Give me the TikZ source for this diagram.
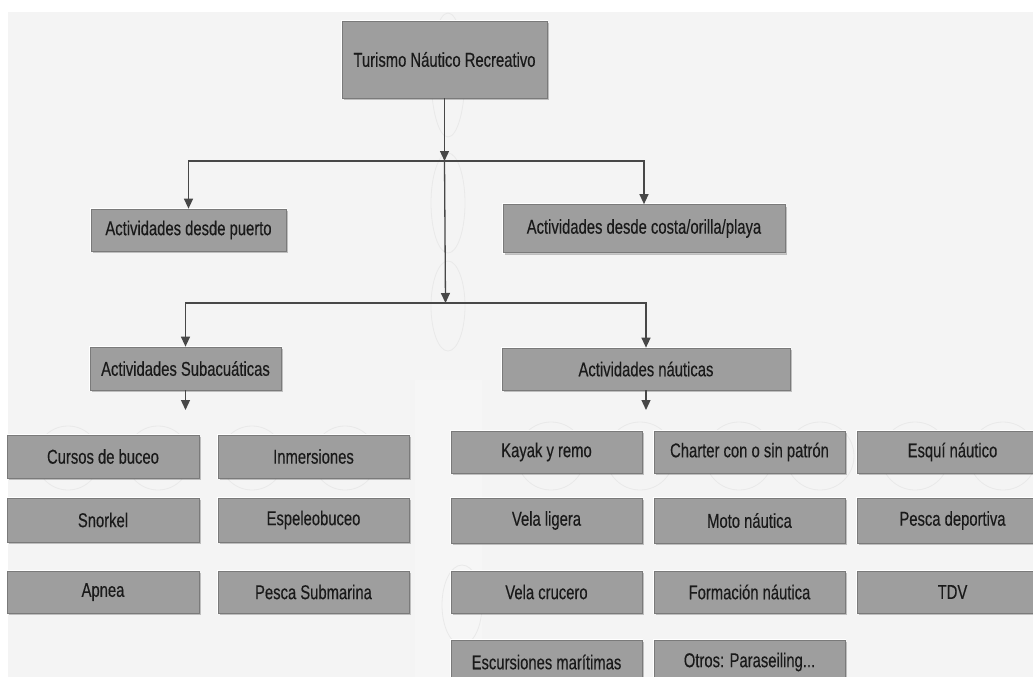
\documentclass[tikz,border=0pt]{standalone}
\usepackage{fontspec}
\setmainfont{Liberation Sans}
\newfontfamily\narrowfont[FakeStretch=0.74, FakeBold=0.35]{Liberation Sans}
\usetikzlibrary{arrows.meta,shadows}
\definecolor{bgc}{HTML}{F4F4F4}
\definecolor{boxfill}{HTML}{9E9E9E}
\definecolor{boxline}{HTML}{7A7A7A}
\definecolor{linec}{HTML}{474747}
\definecolor{ghost}{HTML}{E9E9E9}
\definecolor{textc}{HTML}{1A1A1A}
\tikzset{
  box/.style={draw=boxline, line width=0.7pt, fill=boxfill,
    preaction={draw=white, line width=2.6pt},
    drop shadow={shadow xshift=1.5pt, shadow yshift=-2pt, opacity=0.22, fill=black},
    font=\narrowfont\fontsize{20}{22}\selectfont, text=textc, inner sep=0pt, anchor=center},
  sz/.style 2 args={minimum width=#1pt, minimum height=#2pt},
  conn/.style={draw=linec, line width=1.3pt, -{Triangle[width=9pt,length=10pt]}},
  ghostline/.style={draw=ghost, line width=0.8pt}
}
\begin{document}
\begin{tikzpicture}[x=1pt,y=-1pt]
\useasboundingbox (0,0) rectangle (1033,677);
\clip (0,0) rectangle (1033,677);
\fill[white] (0,0) rectangle (1033,677);
\fill[bgc] (8,12) rectangle (1033,677);
\fill[white, opacity=0.2] (415,380) rectangle (482,677);
% faint background shapes
\draw[ghostline] (448,75) ellipse [x radius=17, y radius=62];
\draw[ghostline] (448,203) ellipse [x radius=17, y radius=50];
\draw[ghostline] (448,306) ellipse [x radius=17, y radius=45];
\draw[ghostline] (462,605) ellipse [x radius=20, y radius=40];
\foreach \cx in {68,158,252,345} \draw[ghostline] (\cx,458) circle [radius=32];
\foreach \cx in {551,640,739,820,915,1003} \draw[ghostline] (\cx,456) circle [radius=34];
% main nodes
\node[box, sz={205}{77}] (top) at (444.5,59.5) {Turismo Náutico Recreativo};
\node[box, sz={195}{42}] (puerto) at (188.5,230) {Actividades desde puerto};
\node[box, sz={282}{48}] (costa) at (644,228.5) {Actividades desde costa/orilla/playa};
\node[box, sz={191}{43}] (sub) at (185.5,368.5) {Actividades Subacuáticas};
\node[box, sz={288}{42}] (nau) at (646,369) {Actividades náuticas};
% left grid
\node[box, sz={192}{43}] (cb) at (103,456.5) {Cursos de buceo};
\node[box, sz={191}{43}] (inm) at (313.5,456.5) {Inmersiones};
\node[box, sz={192}{44}] (sn) at (103,520) {Snorkel};
\node[box, sz={191}{44}] (esp) at (313.5,520) {Espeleobuceo};
\node[box, sz={192}{42}] (apn) at (103,592) {Apnea};
\node[box, sz={191}{42}] (psub) at (313.5,592) {Pesca Submarina};
% right grid
\node[box, sz={191}{42}] (kay) at (546.5,452) {Kayak y remo};
\node[box, sz={191}{42}] (cha) at (749.5,452) {Charter con o sin patrón};
\node[box, sz={191}{42}] (esq) at (952.5,452) {Esquí náutico};
\node[box, sz={191}{45}] (vl) at (546.5,520.5) {Vela ligera};
\node[box, sz={191}{45}] (mot) at (749.5,520.5) {Moto náutica};
\node[box, sz={191}{45}] (pd) at (952.5,520.5) {Pesca deportiva};
\node[box, sz={191}{42}] (vc) at (546.5,592) {Vela crucero};
\node[box, sz={191}{42}] (fn) at (749.5,592) {Formación náutica};
\node[box, sz={191}{42}] (tdv) at (952.5,592) {TDV};
\node[box, sz={191}{44}] (esc) at (546.5,662) {Escursiones marítimas};
\node[box, sz={191}{44}] (otr) at (749.5,662) {Otros: Paraseiling...};
% connectors
\coordinate (j1) at (444.5,161);
\coordinate (j2) at (445.5,303);
\coordinate (s1) at (185.5,410);
\coordinate (n1) at (646,410);
\draw[conn] (top.south) -- (j1);
\draw[conn] (j1) -| (puerto.north);
\draw[conn] (j1) -| (costa.north);
\draw[conn] (j1) -- (j2);
\draw[conn] (j2) -| (sub.north);
\draw[conn] (j2) -| (nau.north);
\draw[conn] (sub.south) -- (s1);
\draw[conn] (nau.south) -- (n1);
\end{tikzpicture}
\end{document}
